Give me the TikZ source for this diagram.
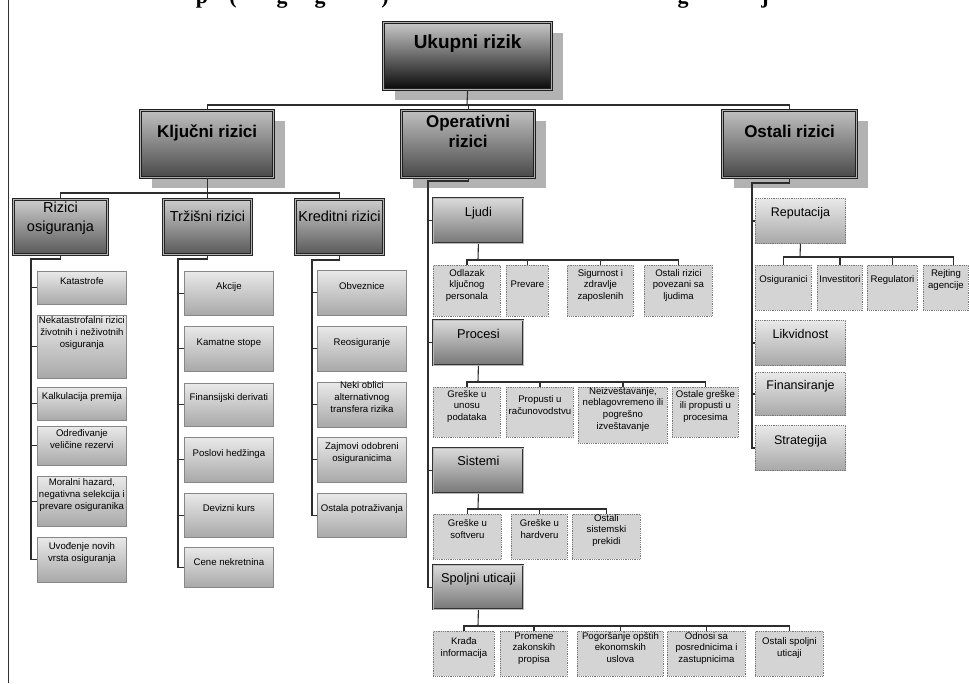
\documentclass[tikz,border=0pt]{standalone}
\usepackage{fontspec}
\setmainfont{Liberation Sans}
\newfontfamily\titlefont{Liberation Serif}
\usetikzlibrary{shadows}

\definecolor{linecol}{RGB}{45,45,45}
\definecolor{framecol}{RGB}{50,50,50}
\definecolor{shadowcol}{RGB}{178,178,178}
\definecolor{ukTop}{RGB}{200,200,200}
\definecolor{ukBot}{RGB}{8,8,8}
\definecolor{aTop}{RGB}{192,192,192}
\definecolor{aBot}{RGB}{72,72,72}
\definecolor{bTop}{RGB}{205,205,205}
\definecolor{bBot}{RGB}{88,88,88}
\definecolor{cTop}{RGB}{218,218,218}
\definecolor{cBot}{RGB}{118,118,118}
\definecolor{leafTop}{RGB}{233,233,233}
\definecolor{leafBot}{RGB}{168,168,168}
\definecolor{leafLine}{RGB}{135,135,135}
\definecolor{dotFill}{RGB}{212,212,212}
\definecolor{dotLine}{RGB}{120,120,120}

% box with its text lifted towards the top: style, name, x, y, width, height, lift, text
\newcommand\riskbox[8]{%
  \node[#1, anchor=north west, inner sep=0pt] (#2) at (#3,#4)
    {\parbox[c][#6pt][c]{#5pt}{\centering\makebox[0pt]{\begin{tabular}{@{}c@{}}#8\end{tabular}}\par\vspace*{#7pt}}};}

\tikzset{
  conn/.style={draw=linecol, line width=1.1pt},
  topbox/.style={draw=black!88, line width=1.2pt, double=gray!65, double distance=0.9pt,
    top color=aTop, bottom color=aBot,
    drop shadow={shadow xshift=11pt, shadow yshift=-10pt, fill=shadowcol, opacity=1},
    font=\bfseries\fontsize{17}{20}\selectfont},
  ukbox/.style={topbox, top color=ukTop, bottom color=ukBot,
    font=\bfseries\fontsize{19}{22}\selectfont},
  midbox/.style={draw=black!85, line width=0.9pt, double=gray!60, double distance=0.6pt,
    top color=bTop, bottom color=bBot, font=\fontsize{14.5}{19}\selectfont},
  subbox/.style={draw=black!80, line width=0.8pt, double=gray!55, double distance=0.4pt,
    top color=cTop, bottom color=cBot, font=\fontsize{12.8}{15}\selectfont},
  leafbox/.style={draw=leafLine, line width=0.8pt, top color=leafTop, bottom color=leafBot,
    font=\fontsize{9.6}{11.8}\selectfont},
  dotbox/.style={draw=dotLine, line width=0.9pt, dash pattern=on 0.9pt off 0.9pt,
    fill=dotFill, font=\fontsize{9.6}{11.8}\selectfont},
  dotgbox/.style={dotbox, top color=leafTop, bottom color=leafBot,
    font=\fontsize{12.5}{15}\selectfont},
  glyph/.style={anchor=base, inner sep=0pt, font=\titlefont\bfseries\fontsize{22}{26}\selectfont},
}

\begin{document}
\begin{tikzpicture}[x=1pt, y=-1pt]
\fill[white] (0,0) rectangle (969,683);
\useasboundingbox (0,0) rectangle (969,683);

% frame line on the left
\draw[framecol, line width=1.3pt] (8.5,0) -- (8.5,683);

% caption line above, only its lowest part lies on the page
\node[glyph] (c1) at (202,3) {p};
\node[glyph] (c2) at (233,3) {(};
\node[glyph] (c3) at (282,3) {g};
\node[glyph] (c4) at (320,3) {g};
\node[glyph] (c5) at (385,3) {)};
\node[glyph] (c6) at (683,3) {g};
\node[glyph] (c7) at (765,3) {j};

% ---------- top levels ----------
\riskbox{ukbox}{uk}{383}{22}{168}{67}{24}{Ukupni rizik}
\riskbox{topbox}{kl}{140}{110}{133}{67}{21}{Ključni rizici}
\riskbox{topbox}{op}{401}{110}{133}{67}{21}{Operativni\\rizici}
\riskbox{topbox}{os}{722}{110}{134}{67}{21}{Ostali rizici}

\riskbox{midbox}{ro}{13}{199}{94}{55}{17}{Rizici\\osiguranja}
\riskbox{midbox}{tr}{163}{199}{88}{55}{19}{Tržišni rizici}
\riskbox{midbox}{kr}{295}{199}{88}{55}{19}{Kreditni rizici}

% ---------- insurance risks ----------
\riskbox{leafbox}{ka}{37}{271}{89}{33}{11}{Katastrofe}
\riskbox{leafbox}{ne}{37}{315}{89}{63}{27}{Nekatastrofalni rizici\\životnih i neživotnih\\osiguranja}
\riskbox{leafbox}{kp}{37}{387}{89}{33}{13}{Kalkulacija premija}
\riskbox{leafbox}{od}{37}{426}{89}{39}{11}{Određivanje\\veličine rezervi}
\riskbox{leafbox}{mh}{37}{476}{89}{50}{12}{Moralni hazard,\\negativna selekcija i\\prevare osiguranika}
\riskbox{leafbox}{uv}{37}{537}{89}{45}{13}{Uvođenje novih\\vrsta osiguranja}

% ---------- market risks ----------
\riskbox{leafbox}{ak}{184}{271}{89}{44}{12}{Akcije}
\riskbox{leafbox}{ks}{184}{326}{89}{45}{12}{Kamatne stope}
\riskbox{leafbox}{fd}{184}{383}{89}{43}{13}{Finansijski derivati}
\riskbox{leafbox}{ph}{184}{437}{89}{45}{11}{Poslovi hedžinga}
\riskbox{leafbox}{dk}{184}{493}{89}{44}{12}{Devizni kurs}
\riskbox{leafbox}{cn}{184}{547}{89}{40}{8}{Cene nekretnina}

% ---------- credit risks ----------
\riskbox{leafbox}{ob}{317}{270}{89}{45}{11}{Obveznice}
\riskbox{leafbox}{re}{317}{326}{89}{45}{11}{Reosiguranje}
\riskbox{leafbox}{no}{317}{382}{89}{45}{13}{Neki oblici\\alternativnog\\transfera rizika}
\riskbox{leafbox}{zo}{317}{437}{89}{45}{13}{Zajmovi odobreni\\osiguranicima}
\riskbox{leafbox}{ost}{317}{493}{89}{44}{12}{Ostala potraživanja}

% ---------- operational risks ----------
\riskbox{subbox}{lj}{433}{198}{90}{45}{15}{Ljudi}
\riskbox{subbox}{pr}{433}{320}{90}{45}{15}{Procesi}
\riskbox{subbox}{si}{433}{448}{90}{45}{17}{Sistemi}
\riskbox{subbox}{sp}{433}{565}{90}{44}{16}{Spoljni uticaji}

\riskbox{dotbox}{lj1}{433}{265}{67}{51}{11}{Odlazak\\ključnog\\personala}
\riskbox{dotbox}{lj2}{506}{265}{42}{51}{11}{Prevare}
\riskbox{dotbox}{lj3}{567}{265}{66}{51}{11}{Sigurnost i\\zdravlje\\zaposlenih}
\riskbox{dotbox}{lj4}{644}{265}{68}{51}{11}{Ostali rizici\\povezani sa\\ljudima}

\riskbox{dotbox}{pr1}{433}{387}{67}{50}{12}{Greške u\\unosu\\podataka}
\riskbox{dotbox}{pr2}{506}{387}{67}{50}{12}{Propusti u\\računovodstvu}
\riskbox{dotbox}{pr3}{578}{387}{89}{56}{12}{Neizveštavanje,\\neblagovremeno ili\\pogrešno\\izveštavanje}
\riskbox{dotbox}{pr4}{672}{387}{66}{50}{12}{Ostale greške\\ili propusti u\\procesima}

\riskbox{dotbox}{si1}{433}{514}{68}{45}{13}{Greške u\\softveru}
\riskbox{dotbox}{si2}{511}{514}{56}{45}{13}{Greške u\\hardveru}
\riskbox{dotbox}{si3}{572}{514}{68}{45}{13}{Ostali\\sistemski\\prekidi}

\riskbox{dotbox}{sp1}{433}{631}{61}{45}{11}{Krađa\\informacija}
\riskbox{dotbox}{sp2}{500}{631}{67}{45}{11}{Promene\\zakonskih\\propisa}
\riskbox{dotbox}{sp3}{577}{631}{86}{45}{11}{Pogoršanje opštih\\ekonomskih\\uslova}
\riskbox{dotbox}{sp4}{667}{631}{78}{45}{11}{Odnosi sa\\posrednicima i\\zastupnicima}
\riskbox{dotbox}{sp5}{755}{631}{68}{45}{11}{Ostali spoljni\\uticaji}

% ---------- other risks ----------
\riskbox{dotgbox}{rp}{755}{198}{90}{45}{15}{Reputacija}
\riskbox{dotgbox}{lk}{755}{320}{90}{45}{15}{Likvidnost}
\riskbox{dotgbox}{fi}{755}{372}{90}{43}{15}{Finansiranje}
\riskbox{dotgbox}{st}{755}{425}{90}{45}{13}{Strategija}

\riskbox{dotbox}{rp1}{755}{265}{56}{45}{15}{Osiguranici}
\riskbox{dotbox}{rp2}{817}{265}{45}{45}{15}{Investitori}
\riskbox{dotbox}{rp3}{867}{265}{50}{45}{15}{Regulatori}
\riskbox{dotbox}{rp4}{923}{265}{45}{45}{15}{Rejting\\agencije}

% ---------- connectors ----------
\coordinate (bus0) at (467,105);
\draw[conn] (uk.south) -- (bus0);
\draw[conn] (kl.north) |- (bus0);
\draw[conn] (op.north) -- (op.north |- bus0);
\draw[conn] (os.north) |- (bus0);

\coordinate (bus1) at (207,193);
\draw[conn] (kl.south) -- (kl.south |- bus1);
\draw[conn] (ro.north) |- (bus1);
\draw[conn] (tr.north) -- (tr.north |- bus1);
\draw[conn] (kr.north) |- (bus1);

\coordinate (roT) at (31,259);
\draw[conn] (ro.south) |- (roT) |- (uv.west);
\foreach \n in {ka,ne,kp,od,mh} \draw[conn] (roT |- \n.west) -- (\n.west);

\coordinate (trT) at (178,259);
\draw[conn] (tr.south) |- (trT) |- (cn.west);
\foreach \n in {ak,ks,fd,ph,dk} \draw[conn] (trT |- \n.west) -- (\n.west);

\coordinate (krT) at (312,260);
\draw[conn] (kr.south) |- (krT) |- (ost.west);
\foreach \n in {ob,re,no,zo} \draw[conn] (krT |- \n.west) -- (\n.west);

\coordinate (opT) at (428,181);
\draw[conn] (op.south) |- (opT) |- (sp.west);
\foreach \n in {lj,pr,si} \draw[conn] (opT |- \n.west) -- (\n.west);

\coordinate (osT) at (752,183);
\draw[conn] (os.south) |- (osT) |- (st.west);
\foreach \n in {rp,lk,fi} \draw[conn] (osT |- \n.west) -- (\n.west);

\coordinate (ljB) at (478,260);
\draw[conn] (lj.south) -- (ljB);
\foreach \n in {lj1,lj2,lj3,lj4} \draw[conn] (\n.north) |- (ljB);

\coordinate (prB) at (478,382);
\draw[conn] (pr.south) -- (prB);
\foreach \n in {pr1,pr2,pr3,pr4} \draw[conn] (\n.north) |- (prB);

\coordinate (siB) at (478,509);
\draw[conn] (si.south) -- (siB);
\foreach \n in {si1,si2,si3} \draw[conn] (\n.north) |- (siB);

\coordinate (spB) at (478,626);
\draw[conn] (sp.south) -- (spB);
\foreach \n in {sp1,sp2,sp3,sp4,sp5} \draw[conn] (\n.north) |- (spB);

\coordinate (rpB) at (800,257);
\draw[conn] (rp.south) -- (rpB);
\foreach \n in {rp1,rp2,rp3} \draw[conn] (\n.north) |- (rpB);
\draw[conn] ([xshift=7.5pt]rp4.north) |- (rpB);
\end{tikzpicture}
\end{document}
